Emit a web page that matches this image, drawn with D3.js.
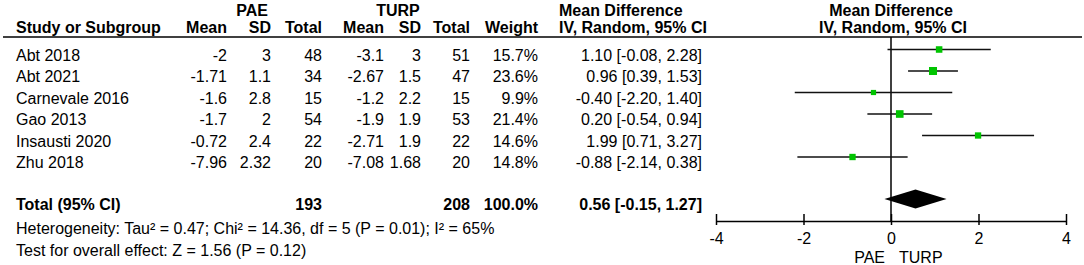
<!DOCTYPE html>
<html lang="en">
<head>
    <meta charset="UTF-8">
    <title>Forest plot PAE vs TURP</title>
    <script src="https://d3js.org/d3.v7.min.js"></script>
    <style>
        html, body {
            margin: 0;
            padding: 0;
            background: #fff;
        }
        svg {
            display: block;
            font-family: "Liberation Sans", Arial, sans-serif;
            font-size: 16px;
        }
        .bold { font-weight: bold; }
    </style>
</head>
<body>
    <svg id="chart" width="1084" height="265"></svg>

    <script>
        // study data
        const studies = ["Abt 2018", "Abt 2021", "Carnevale 2016", "Gao 2013", "Insausti 2020", "Zhu 2018"];
        const paeMean = ["-2", "-1.71", "-1.6", "-1.7", "-0.72", "-7.96"];
        const paeSD = ["3", "1.1", "2.8", "2", "2.4", "2.32"];
        const paeTotal = [48, 34, 15, 54, 22, 20];
        const turpMean = ["-3.1", "-2.67", "-1.2", "-1.9", "-2.71", "-7.08"];
        const turpSD = ["3", "1.5", "2.2", "1.9", "1.9", "1.68"];
        const turpTotal = [51, 47, 15, 53, 22, 20];
        const weights = [15.7, 23.6, 9.9, 21.4, 14.6, 14.8];
        const md = [1.10, 0.96, -0.40, 0.20, 1.99, -0.88];
        const lower = [-0.08, 0.39, -2.20, -0.54, 0.71, -2.14];
        const upper = [2.28, 1.53, 1.40, 0.94, 3.27, 0.38];

        // pooled
        const pooled = { md: 0.56, lo: -0.15, hi: 1.27, paeN: 193, turpN: 208, weight: "100.0%" };
        const heterogeneity = "Heterogeneity: Tau² = 0.47; Chi² = 14.36, df = 5 (P = 0.01); I² = 65%";
        const overall = "Test for overall effect: Z = 1.56 (P = 0.12)";
        const axisTicks = [-4, -2, 0, 2, 4];

        // plain hyphen minus like the original
        const fmt = v => v.toFixed(2);
        const ciText = (m, l, h) => `${fmt(m)} [${fmt(l)}, ${fmt(h)}]`;

        const svg = d3.select("#chart");

        // column right edges
        const cols = {
            paeMean: 227, paeSD: 271, paeTotal: 322,
            turpMean: 384, turpSD: 421, turpTotal: 470,
            weight: 538, ci: 702
        };

        // row positions
        const rowY = d3.scaleLinear().domain([0, 5]).range([49.5, 157]);
        const textOff = 11; // text baseline below the marker centre
        const totalY = 199;

        const x = d3.scaleLinear().domain([-4, 4]).range([716, 1066]);
        const sqSide = d3.scaleSqrt().domain([0, 100]).range([0, 16.5]);

        // headers
        const head = svg.append("g").attr("class", "bold");
        head.append("text").attr("x", 252).attr("y", 16).attr("text-anchor", "middle").text("PAE");
        head.append("text").attr("x", 398).attr("y", 16).attr("text-anchor", "middle").text("TURP");
        head.append("text").attr("x", 559).attr("y", 16).text("Mean Difference");
        head.append("text").attr("x", x(0)).attr("y", 16).attr("text-anchor", "middle").text("Mean Difference");

        head.append("text").attr("x", 16).attr("y", 33).text("Study or Subgroup");
        const sub = [["paeMean", "Mean"], ["paeSD", "SD"], ["paeTotal", "Total"],
                     ["turpMean", "Mean"], ["turpSD", "SD"], ["turpTotal", "Total"], ["weight", "Weight"]];
        sub.forEach(([k, t]) => {
            head.append("text").attr("x", cols[k]).attr("y", 33).attr("text-anchor", "end").text(t);
        });
        head.append("text").attr("x", 559).attr("y", 33).text("IV, Random, 95% CI");
        head.append("text").attr("x", x(0) + 2).attr("y", 33).attr("text-anchor", "middle").text("IV, Random, 95% CI");

        svg.append("line")
            .attr("x1", 3).attr("x2", 1082).attr("y1", 37).attr("y2", 37)
            .attr("stroke", "#000").attr("stroke-width", 1.5);

        // table rows
        const rows = svg.append("g");
        studies.forEach((s, i) => {
            const y = rowY(i) + textOff;
            rows.append("text").attr("x", 16).attr("y", y).text(s);
            const cells = [
                ["paeMean", paeMean[i]], ["paeSD", paeSD[i]], ["paeTotal", paeTotal[i]],
                ["turpMean", turpMean[i]], ["turpSD", turpSD[i]], ["turpTotal", turpTotal[i]],
                ["weight", weights[i].toFixed(1) + "%"], ["ci", ciText(md[i], lower[i], upper[i])]
            ];
            cells.forEach(([k, v]) => {
                rows.append("text").attr("x", cols[k]).attr("y", y).attr("text-anchor", "end").text(v);
            });
        });

        // total row
        const tot = svg.append("g").attr("class", "bold");
        const ty = totalY + textOff;
        tot.append("text").attr("x", 16).attr("y", ty).text("Total (95% CI)");
        tot.append("text").attr("x", cols.paeTotal).attr("y", ty).attr("text-anchor", "end").text(pooled.paeN);
        tot.append("text").attr("x", cols.turpTotal).attr("y", ty).attr("text-anchor", "end").text(pooled.turpN);
        tot.append("text").attr("x", cols.weight).attr("y", ty).attr("text-anchor", "end").text(pooled.weight);
        tot.append("text").attr("x", cols.ci).attr("y", ty).attr("text-anchor", "end")
            .text(ciText(pooled.md, pooled.lo, pooled.hi));

        svg.append("text").attr("x", 16).attr("y", 233.5).text(heterogeneity);
        svg.append("text").attr("x", 16).attr("y", 256).text(overall);

        // plot
        const axisY = 221;
        const plot = svg.append("g");

        plot.append("line")
            .attr("x1", x(0)).attr("x2", x(0)).attr("y1", 37).attr("y2", axisY)
            .attr("stroke", "#000").attr("stroke-width", 1.5);

        studies.forEach((s, i) => {
            const cy = rowY(i);
            plot.append("line")
                .attr("x1", x(lower[i])).attr("x2", x(upper[i]))
                .attr("y1", cy).attr("y2", cy)
                .attr("stroke", "#111").attr("stroke-width", 1.5);
            const side = sqSide(weights[i]);
            plot.append("rect")
                .attr("x", x(md[i]) - side / 2).attr("y", cy - side / 2)
                .attr("width", side).attr("height", side)
                .attr("fill", "#00c400");
        });

        // pooled diamond
        const dh = 9.5;
        plot.append("path")
            .attr("d", `M${x(pooled.lo)},${totalY} L${x(pooled.md)},${totalY - dh} L${x(pooled.hi)},${totalY} L${x(pooled.md)},${totalY + dh} Z`)
            .attr("fill", "#000");

        // axis
        const axis = d3.axisBottom(x).tickValues(axisTicks).tickSizeOuter(0).tickSizeInner(4).tickPadding(8)
            .tickFormat(d => String(d));
        const ag = plot.append("g").attr("transform", `translate(0,${axisY})`).call(axis);
        ag.select(".domain").attr("stroke", "#000").attr("stroke-width", 1.5);
        ag.selectAll(".tick line").attr("y1", -7).attr("stroke", "#000").attr("stroke-width", 1.5);
        ag.selectAll(".tick text")
            .attr("font-family", "Liberation Sans, Arial, sans-serif")
            .attr("font-size", 16).attr("fill", "#000");

        plot.append("text").attr("x", x(0) - 6).attr("y", 262.5).attr("text-anchor", "end").text("PAE");
        plot.append("text").attr("x", x(0) + 8).attr("y", 262.5).text("TURP");
    </script>
</body>
</html>
